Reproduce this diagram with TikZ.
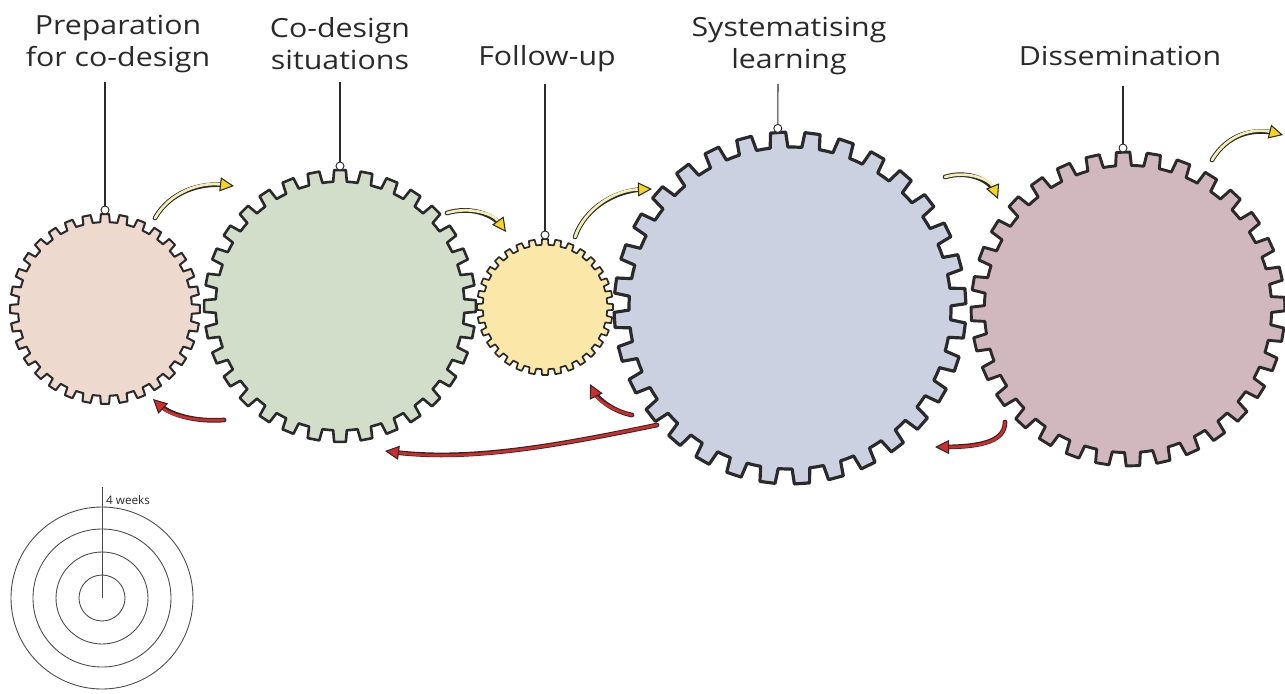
\documentclass[tikz,border=0pt]{standalone}
\usepackage{fontspec}
\setmainfont{Open Sans}
\newfontfamily\handfont[FakeStretch=1.15]{Open Sans}
\usetikzlibrary{arrows.meta}

\definecolor{inkline}{HTML}{2A2A2A}
\definecolor{peach}{HTML}{EDD9CE}
\definecolor{sage}{HTML}{D2DDCA}
\definecolor{butter}{HTML}{FBE8A8}
\definecolor{haze}{HTML}{CBD1E0}
\definecolor{mauve}{HTML}{D1B8BF}
\definecolor{paleyellow}{HTML}{F5EEB2}
\definecolor{tipyellow}{HTML}{F6D51E}
\definecolor{flowred}{HTML}{D42A2A}
\definecolor{ringgray}{HTML}{4A4A4A}

% gear with 32 teeth: name, centre x, centre y, outer radius, fill, tooth angle offset
\newcommand\drawgear[6]{%
  \coordinate (#1) at (#2,#3);
  \pgfmathsetmacro\gearR{#4}%
  \pgfmathsetmacro\gearr{0.915*#4}%
  \pgfmathsetmacro\gearlw{0.6+0.012*#4}%
  \filldraw[gearbody, fill=#5, line width=\gearlw pt, shift={(#1)}]
    ({#6-5.625}:\gearr)
    \foreach \k in {0,...,31}{
      -- ({#6+\k*11.25-3.15}:\gearr) -- ({#6+\k*11.25-2.475}:\gearR)
      -- ({#6+\k*11.25+2.475}:\gearR) -- ({#6+\k*11.25+3.15}:\gearr)
      -- ({#6+\k*11.25+5.625}:\gearr)}
    -- cycle;}

% two-tone arrow: dark casing first, coloured core with tip on top
\newcommand\flowarrow[2]{%
  \draw[flowcase] #2;
  \draw[#1] #2;}

\begin{document}
\begin{tikzpicture}[x=0.03cm, y=-0.03cm,
  gearbody/.style={draw=inkline, line join=round},
  title/.style={font=\handfont\fontsize{22.5}{27}\selectfont, align=center,
    inner sep=0pt, text=inkline, anchor=base},
  hangline/.style={draw=inkline, line width=0.9pt},
  hangring/.style={draw=inkline, fill=white, line width=0.8pt},
  flowcase/.style={draw=inkline, line width=4pt, line cap=round, shorten >=6pt},
  yellowcore/.style={draw=paleyellow, line width=2.3pt, line cap=round,
    -{Triangle[length=12pt, width=12pt, color=inkline, fill=tipyellow, line width=0.9pt]}},
  redcore/.style={draw=flowred, line width=2.3pt, line cap=round,
    -{Triangle[length=12pt, width=12pt, color=inkline, fill=flowred, line width=0.9pt]}},
  ringline/.style={draw=ringgray, line width=0.75pt}]

\useasboundingbox (0,0) rectangle (1285,693);

% gears
\drawgear{g1}{105}{309}{95}{peach}{0}
\drawgear{g2}{340}{306}{136}{sage}{0}
\drawgear{g3}{545}{307}{68}{butter}{0}
\drawgear{g4}{790}{308}{176}{haze}{-3.9}
\drawgear{g5}{1128}{309}{157}{mauve}{-1.8}

% titles (base anchor on the last line)
\node[title] (t1) at (118,66) {Preparation\\for co-design};
\node[title] (t2) at (340,69) {Co-design\\situations};
\node[title] (t3) at (547,65) {Follow-up};
\node[title] (t4) at (789,68) {Systematising\\learning};
\node[title] (t5) at (1120,65) {Dissemination};

% hanging strings and rings
\coordinate (l1) at (105,82);   \coordinate (r1) at (105,210);
\coordinate (l2) at (340,82);   \coordinate (r2) at (340,166);
\coordinate (l3) at (545,84);   \coordinate (r3) at (545,235);
\coordinate (l4) at (778,84);   \coordinate (r4) at (777.8,128.4);
\coordinate (l5) at (1123,86);  \coordinate (r5) at (1123,148);
\foreach \i in {1,...,5}{
  \draw[hangline] (l\i) -- (r\i);
  \draw[hangring] (r\i) circle[radius=4];
}

% forward arrows
\coordinate (ya1s) at (155,218);  \coordinate (ya1e) at (234,186);
\coordinate (ya2s) at (447,213);  \coordinate (ya2e) at (506,232);
\coordinate (ya3s) at (575,237);  \coordinate (ya3e) at (652,189);
\coordinate (ya4s) at (945,177);  \coordinate (ya4e) at (998,199);
\coordinate (ya5s) at (1212,160); \coordinate (ya5e) at (1283,135);
\flowarrow{yellowcore}{(ya1s) .. controls (170,192) and (200,182) .. (ya1e)}
\flowarrow{yellowcore}{(ya2s) .. controls (470,206) and (493,214) .. (ya2e)}
\flowarrow{yellowcore}{(ya3s) .. controls (585,208) and (615,190) .. (ya3e)}
\flowarrow{yellowcore}{(ya4s) .. controls (968,170) and (990,180) .. (ya4e)}
\flowarrow{yellowcore}{(ya5s) .. controls (1228,133) and (1255,128) .. (ya5e)}

% feedback arrows
\coordinate (ra1s) at (224,420);  \coordinate (ra1e) at (153,399);
\coordinate (ra2s) at (632,415);  \coordinate (ra2e) at (590,384);
\coordinate (ra3s) at (657,425);  \coordinate (ra3e) at (385,451);
\coordinate (ra4s) at (1005,422); \coordinate (ra4e) at (935,447);
\flowarrow{redcore}{(ra1s) .. controls (195,422) and (170,415) .. (ra1e)}
\flowarrow{redcore}{(ra2s) .. controls (615,412) and (598,400) .. (ra2e)}
\flowarrow{redcore}{(ra3s) .. controls (560,445) and (470,462) .. (ra3e)}
\flowarrow{redcore}{(ra4s) .. controls (1005,440) and (985,447) .. (ra4e)}

% time scale
\coordinate (sc) at (102,598);
\coordinate (scmark) at (102,487);
\foreach \r in {23,46,69,91}{
  \draw[ringline] (sc) circle[radius=\r];
}
\draw[ringline] (sc) -- (scmark);
\node[anchor=west, inner sep=0pt, text=inkline, font=\fontsize{10}{12}\selectfont]
  (wk) at (106,500) {4 weeks};

\end{tikzpicture}
\end{document}
